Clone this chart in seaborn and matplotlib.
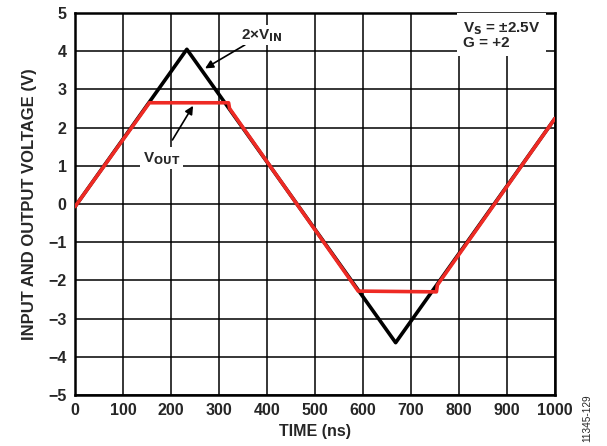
import matplotlib
matplotlib.use("Agg")
import matplotlib.pyplot as plt
import seaborn as sns
import pandas as pd

# data
vin_time = [0, 233, 668, 1000]
vin_volts = [-0.07, 4.05, -3.63, 2.24]
vout_time = [0, 155, 320, 322, 590, 753, 755, 1000]
vout_volts = [-0.07, 2.65, 2.65, 2.5, -2.28, -2.3, -2.12, 2.24]
x_ticks = [0, 100, 200, 300, 400, 500, 600, 700, 800, 900, 1000]
y_ticks = [-5, -4, -3, -2, -1, 0, 1, 2, 3, 4, 5]
y_tick_labels = ["\u22125", "\u22124", "\u22123", "\u22122", "\u22121", "0", "1", "2", "3", "4", "5"]

sns.set_style("white")
plt.rcParams["font.family"] = ["Liberation Sans", "DejaVu Sans"]
plt.rcParams["font.weight"] = "bold"

fig = plt.figure(figsize=(6.07, 4.46), dpi=100)
ax = fig.add_axes([75 / 607, 1 - 395 / 446, 480 / 607, 382 / 446])

df_in = pd.DataFrame({"t": vin_time, "v": vin_volts})
df_out = pd.DataFrame({"t": vout_time, "v": vout_volts})
sns.lineplot(data=df_in, x="t", y="v", ax=ax, color="black", lw=2.6, zorder=3)
sns.lineplot(data=df_out, x="t", y="v", ax=ax, color="#ee2a24", lw=2.6, zorder=4)

ax.set_xlim(0, 1000)
ax.set_ylim(-5, 5)
ax.set_xticks(x_ticks)
ax.set_yticks(y_ticks)
ax.set_xticklabels([str(t) for t in x_ticks], fontsize=11.5, fontweight="bold")
ax.set_yticklabels(y_tick_labels, fontsize=11.5, fontweight="bold")
ax.tick_params(length=0, pad=6)
ax.grid(True, color="black", lw=1.1)
for s in ax.spines.values():
    s.set_color("black")
    s.set_linewidth(1.8)
ax.set_axisbelow(True)

ax.set_xlabel("TIME (ns)", fontsize=11.5, fontweight="bold", labelpad=4)
ax.set_ylabel("INPUT AND OUTPUT VOLTAGE (V)", fontsize=12, fontweight="bold", labelpad=8)

# info box
ax.text(808, 4.82, "V$_\\mathbf{S}$ = \u00b12.5V\nG = +2", fontsize=11, fontweight="bold",
        va="top", ha="left", linespacing=0.95, zorder=6,
        bbox=dict(facecolor="white", edgecolor="none", pad=4))

# annotations
ax.annotate("2\u00d7V$_\\mathbf{IN}$", xy=(271, 3.55), xytext=(345, 4.42),
            fontsize=11, fontweight="bold", va="center", ha="left", zorder=6,
            bbox=dict(facecolor="white", edgecolor="none", pad=1),
            arrowprops=dict(arrowstyle="-|>", color="black", lw=1.2,
                            shrinkA=0, shrinkB=0, mutation_scale=12))
ax.annotate("V$_\\mathbf{OUT}$", xy=(246, 2.57), xytext=(180, 1.2),
            fontsize=11, fontweight="bold", va="center", ha="center", zorder=6,
            bbox=dict(facecolor="white", edgecolor="none", pad=2),
            arrowprops=dict(arrowstyle="-|>", color="black", lw=1.2,
                            shrinkA=6, shrinkB=0, mutation_scale=12))

fig.text(587 / 607, 1 - 418 / 446, "11345-129", rotation=90, fontsize=7.2,
         fontweight="normal", ha="center", va="center")

fig.savefig("out.png", dpi=100)
